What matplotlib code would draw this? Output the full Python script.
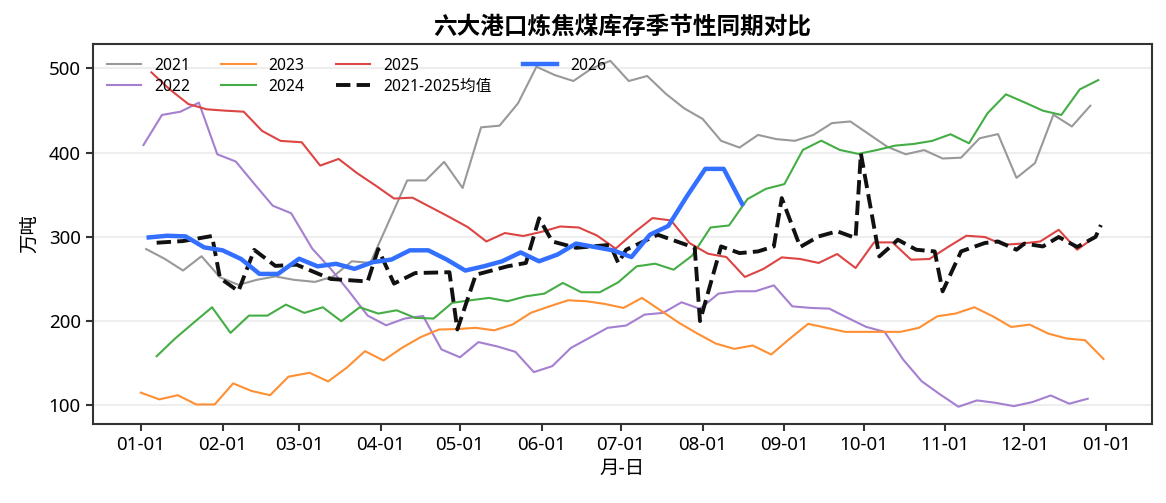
"""Seasonal comparison of coking coal stocks at six major ports, 2021-2026."""

import matplotlib

matplotlib.use("Agg")
import matplotlib.dates as mdates
import matplotlib.pyplot as plt
import pandas as pd

plt.rcParams["font.family"] = ["Noto Sans", "Noto Sans CJK SC", "DejaVu Sans"]
plt.rcParams["axes.unicode_minus"] = False

BASE_YEAR = 2024  # every year is drawn on one leap-year calendar

# weekly values (万吨), first week = first Sunday of each year
v2021 = [285.5, 274, 260, 277, 252, 243, 249, 253, 249, 246.5,
         253, 271, 269, 318, 367, 367, 389, 358, 430, 432,
         458.5, 502, 492, 485, 500, 509, 485, 491, 470, 452.6,
         440, 414, 406, 421, 416, 414, 421, 435, 437, 422,
         407, 398, 403, 393, 394, 417, 422, 370, 387.5, 445,
         431, 455.7]
v2022 = [409, 444.7, 448.6, 459.3, 398, 389.4, 363, 337, 328, 286,
         262, 235, 206.5, 195, 203, 206, 166.3, 157, 175, 170,
         163.5, 139.4, 146.5, 168, 180, 192, 194.7, 207.7, 209.7, 222.3,
         214.5, 232.6, 235.4, 235.4, 242.4, 217.5, 215.6, 214.8, 203.8, 193.1,
         187.2, 154.4, 128.7, 113, 98.3, 105.8, 103, 99, 103.8, 111.7,
         101.9, 107.8]
v2023 = [115, 107, 112, 101, 101, 126, 117, 112, 134, 138.6,
         128.3, 144.5, 164.3, 153.2, 168.2, 180.8, 190, 190.5, 192, 189,
         196, 210, 217.5, 224.7, 223.5, 220.3, 215.6, 227.5, 212.8, 198,
         185.2, 173.3, 167, 171, 160.3, 179, 196.7, 192, 187.2, 187.2,
         187.2, 187.2, 192, 205.7, 209, 216.4, 205.7, 193, 195.8, 185.2,
         179.3, 177.3, 155]
v2024 = [158.3, 179.3, 198, 216.4, 186, 206.5, 206.5, 219.5, 209.7, 216.4,
         199.8, 216.4, 208.9, 212.8, 203.8, 203, 221.6, 224.7, 227.5, 223.5,
         229.4, 232.6, 245.3, 234.2, 234.2, 246, 265, 268.1, 261, 277.6,
         311.1, 313.5, 344.8, 357, 362.6, 403.2, 414.2, 403.2, 398.5, 403,
         408.3, 410.3, 413.9, 421.8, 411.1, 446.7, 469.2, 459.7, 449.8, 444.7,
         475.1, 486.1]
v2025 = [495.3, 475, 457.7, 451.4, 449.8, 448.6, 425.7, 413.9, 412.3, 384.6,
         392.5, 375.6, 360.9, 345.5, 346.5, 335, 323.5, 311.5, 294.5, 304.5,
         301, 306, 312.3, 311.1, 301.5, 286, 305, 322.3, 319.5, 292.7,
         280, 276, 252.4, 261.8, 275.6, 273.7, 269, 279.6, 263, 293.4,
         293.4, 272.9, 273.7, 287.9, 301.3, 299.8, 290.6, 292, 294.5, 308.4,
         284.7, 300.5]
v2026 = [299.3, 301.3, 300.5, 287.5, 284, 273.7, 256, 256, 274, 265,
         268, 262, 270, 273, 284, 284, 273, 260, 265, 271,
         281.5, 271, 279, 292, 288, 284, 276, 302.5, 313, 348,
         380.7, 380.7, 339]

# 2021-2025 mean, by month-day
mean_days = ["01-07", "01-17", "01-28", "01-31", "02-07", "02-13", "02-21", "02-29",
             "03-13", "03-27", "03-31", "04-06", "04-14", "04-27", "04-30", "05-07",
             "05-19", "05-26", "05-31", "06-05", "06-14", "06-27", "06-30", "07-03",
             "07-15", "07-29", "07-31", "08-08", "08-15", "08-22", "08-28", "08-31",
             "09-07", "09-14", "09-21", "09-28", "09-30", "10-07", "10-12", "10-14",
             "10-21", "10-28", "10-31", "11-07", "11-16", "11-21", "11-28", "12-01",
             "12-08", "12-14", "12-21", "12-28", "12-30"]
mean_vals = [293, 295, 301, 251, 235.5, 284.5, 265.5, 267, 250, 247,
             285.5, 244.5, 257, 258, 190, 255, 265, 269, 322, 294.5,
             287, 290.5, 269, 284.7, 302.5, 287, 200, 288.6, 280.7, 282.7,
             288.6, 346, 288, 300.5, 306.6, 298.6, 399, 276.8, 290.6, 296.6,
             284.7, 282.7, 235.3, 282.7, 292.7, 294.5, 284.7, 292, 288.6, 299.8,
             288, 300, 314]

years = [2021, 2022, 2023, 2024, 2025]
values = [v2021, v2022, v2023, v2024, v2025]
colors = ["#999999", "#A57FD0", "#FF8F33", "#45AD45", "#DD4444"]


def week_dates(year, n):
    d = pd.date_range(f"{year}-01-01", periods=n, freq="W-SUN")
    return [x.replace(year=BASE_YEAR) for x in d]


fig = plt.figure(figsize=(11.66, 5.03), dpi=100)
ax = fig.add_axes([0.0795, 0.157, 0.9082, 0.7565])

for y, v, c in zip(years, values, colors):
    ax.plot(week_dates(y, len(v)), v, color=c, lw=1.5, label=str(y))

mean_x = pd.to_datetime([f"{BASE_YEAR}-{d}" for d in mean_days])
ax.plot(mean_x, mean_vals, color="#111111", lw=2.8, ls="--", label="2021-2025均值")
ax.plot(week_dates(2026, len(v2026)), v2026, color="#3370FF", lw=3.2, label="2026")

ax.xaxis.set_major_locator(mdates.MonthLocator(bymonthday=1))
ax.xaxis.set_major_formatter(mdates.DateFormatter("%m-%d"))
ax.set_yticks([100, 200, 300, 400, 500])
ax.tick_params(labelsize=13.5, length=5, width=1.5, color="#333333")
ax.grid(True, axis="y", color="#EEEEEE", lw=1.5)
ax.set_axisbelow(True)
for s in ax.spines.values():
    s.set_color("#333333")
    s.set_linewidth(1.5)

ax.set_title("六大港口炼焦煤库存季节性同期对比", fontsize=17, fontweight="bold", pad=7)
ax.set_xlabel("月-日", fontsize=14, labelpad=4)
ax.set_ylabel("万吨", fontsize=14, labelpad=6)
ax.legend(loc="upper left", ncol=4, frameon=False, fontsize=11.3,
          handlelength=2.2, columnspacing=2.0, labelspacing=0.33)

fig.savefig("out.png", dpi=100)
